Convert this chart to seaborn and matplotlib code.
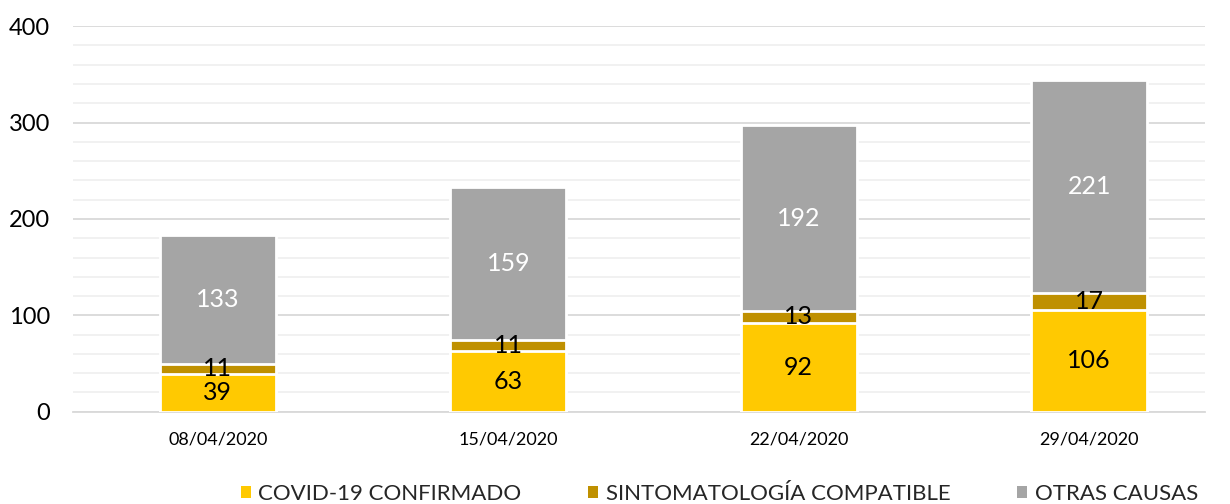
import numpy as np
import pandas as pd
import seaborn as sns
import matplotlib.pyplot as plt
from matplotlib.ticker import MultipleLocator
from matplotlib.patches import Patch

fechas = ["08/04/2020", "15/04/2020", "22/04/2020", "29/04/2020"]
covid = [39, 63, 92, 106]
sintomas = [11, 11, 13, 17]
otras = [133, 159, 192, 221]
series = ["COVID-19 CONFIRMADO", "SINTOMATOLOGÍA COMPATIBLE", "OTRAS CAUSAS"]
colores = ["#FFC901", "#BF9000", "#A5A5A5"]

sns.set_theme(style="white")
plt.rcParams["font.family"] = ["Lato", "DejaVu Sans"]

df = pd.DataFrame({"fecha": fechas, "covid": covid, "sint": sintomas, "otras": otras})
df["tope2"] = df["covid"] + df["sint"]
df["tope3"] = df["tope2"] + df["otras"]

fig = plt.figure(figsize=(12.3, 5.04), dpi=100)
ax = fig.add_axes([0.059, 0.183, 0.921, 0.765])

# apilado dibujando totales de mayor a menor
for col, c in zip(["tope3", "tope2", "covid"], colores[::-1]):
    sns.barplot(data=df, x="fecha", y=col, color=c, width=0.4, edgecolor="white",
                linewidth=2, saturation=1, ax=ax, zorder=3)

ax.set_ylim(0, 400)
ax.set_xlim(-0.5, 3.4)
ax.yaxis.set_major_locator(MultipleLocator(100))
ax.yaxis.set_minor_locator(MultipleLocator(20))
ax.grid(axis="y", which="major", color="#D9D9D9", linewidth=1.3, zorder=0)
ax.grid(axis="y", which="minor", color="#F0F0F0", linewidth=1.3, zorder=0)
ax.set_axisbelow(True)
for s in ["top", "right", "left"]:
    ax.spines[s].set_visible(False)
ax.spines["bottom"].set_color("#D9D9D9")
ax.spines["bottom"].set_linewidth(1.3)
ax.set_xlabel("")
ax.set_ylabel("")
ax.tick_params(axis="y", labelsize=17, pad=16, length=0, colors="black")
ax.tick_params(axis="x", labelsize=13, pad=14, length=0, colors="black")

for i in range(len(fechas)):
    ax.text(i, covid[i] / 2, str(covid[i]), ha="center", va="center", fontsize=18, color="black", zorder=5)
    ax.text(i, covid[i] + sintomas[i] / 2, str(sintomas[i]), ha="center", va="center", fontsize=18, color="black", zorder=5)
    ax.text(i, covid[i] + sintomas[i] + otras[i] / 2, str(otras[i]), ha="center", va="center", fontsize=18, color="white", zorder=5)

handles = [Patch(facecolor=c, edgecolor="none") for c in colores]
fig.legend(handles, series, loc="lower center", bbox_to_anchor=(0.585, -0.04), ncol=3,
           frameon=False, fontsize=16, handlelength=0.45, handleheight=0.45,
           handletextpad=0.35, columnspacing=3.0)

fig.savefig("out.png", dpi=100)
